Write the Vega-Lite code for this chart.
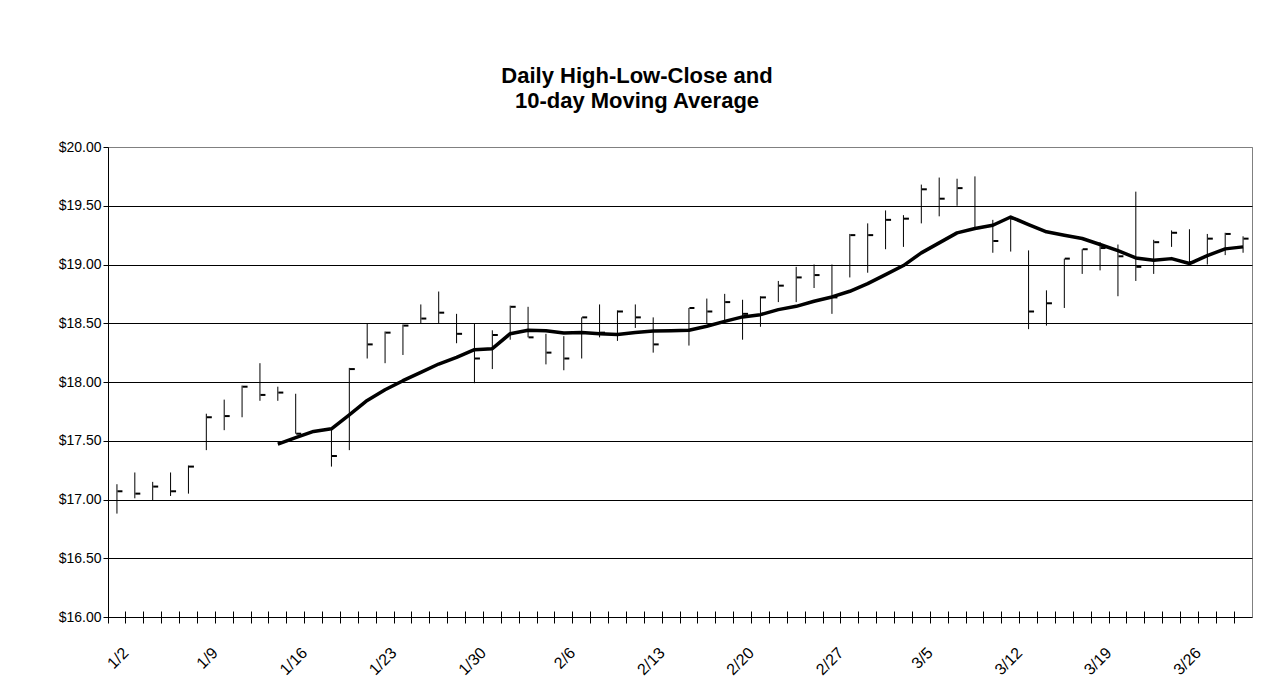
{
  "$schema": "https://vega.github.io/schema/vega-lite/v6.json",
  "width": 1144,
  "height": 470,
  "autosize": {"type": "none"},
  "padding": {"left": 108, "top": 147, "right": 22, "bottom": 83},
  "background": "white",
  "title": {
    "text": ["Daily High-Low-Close and", "10-day Moving Average"],
    "font": "Liberation Sans",
    "fontSize": 22,
    "fontWeight": "bold",
    "color": "black",
    "anchor": "middle",
    "dx": -43,
    "offset": 27,
    "lineHeight": 25
  },
  "config": {
    "view": {"stroke": "#808080", "strokeWidth": 1},
    "font": "Liberation Sans"
  },
  "datasets": {
    "bars": [
      {"date": "1/2", "high": 17.13, "low": 16.88, "close": 17.07},
      {"date": "1/3", "high": 17.23, "low": 17.01, "close": 17.05},
      {"date": "1/4", "high": 17.15, "low": 16.99, "close": 17.11},
      {"date": "1/7", "high": 17.23, "low": 17.03, "close": 17.07},
      {"date": "1/8", "high": 17.29, "low": 17.05, "close": 17.28},
      {"date": "1/9", "high": 17.73, "low": 17.42, "close": 17.70},
      {"date": "1/10", "high": 17.85, "low": 17.59, "close": 17.71},
      {"date": "1/11", "high": 17.97, "low": 17.70, "close": 17.96},
      {"date": "1/14", "high": 18.16, "low": 17.84, "close": 17.89},
      {"date": "1/15", "high": 17.96, "low": 17.84, "close": 17.91},
      {"date": "1/16", "high": 17.90, "low": 17.56, "close": 17.56},
      {"date": "1/18", "high": 17.60, "low": 17.28, "close": 17.37},
      {"date": "1/21", "high": 18.12, "low": 17.42, "close": 18.11},
      {"date": "1/22", "high": 18.50, "low": 18.20, "close": 18.32},
      {"date": "1/23", "high": 18.43, "low": 18.16, "close": 18.42},
      {"date": "1/24", "high": 18.49, "low": 18.23, "close": 18.48},
      {"date": "1/25", "high": 18.66, "low": 18.50, "close": 18.54},
      {"date": "1/28", "high": 18.77, "low": 18.50, "close": 18.59},
      {"date": "1/29", "high": 18.58, "low": 18.33, "close": 18.41},
      {"date": "1/30", "high": 18.50, "low": 17.99, "close": 18.20},
      {"date": "1/31", "high": 18.44, "low": 18.11, "close": 18.40},
      {"date": "2/1", "high": 18.65, "low": 18.36, "close": 18.64},
      {"date": "2/4", "high": 18.64, "low": 18.38, "close": 18.38},
      {"date": "2/5", "high": 18.41, "low": 18.15, "close": 18.25},
      {"date": "2/6", "high": 18.39, "low": 18.10, "close": 18.20},
      {"date": "2/7", "high": 18.55, "low": 18.20, "close": 18.55},
      {"date": "2/8", "high": 18.66, "low": 18.38, "close": 18.42},
      {"date": "2/11", "high": 18.61, "low": 18.35, "close": 18.60},
      {"date": "2/12", "high": 18.66, "low": 18.46, "close": 18.55},
      {"date": "2/13", "high": 18.55, "low": 18.25, "close": 18.32},
      {"date": "2/15", "high": 18.63, "low": 18.31, "close": 18.63},
      {"date": "2/18", "high": 18.71, "low": 18.50, "close": 18.60},
      {"date": "2/19", "high": 18.75, "low": 18.52, "close": 18.68},
      {"date": "2/20", "high": 18.70, "low": 18.36, "close": 18.58},
      {"date": "2/21", "high": 18.73, "low": 18.47, "close": 18.72},
      {"date": "2/22", "high": 18.86, "low": 18.68, "close": 18.82},
      {"date": "2/25", "high": 18.98, "low": 18.68, "close": 18.89},
      {"date": "2/26", "high": 19.00, "low": 18.80, "close": 18.91},
      {"date": "2/27", "high": 19.00, "low": 18.58, "close": 18.72},
      {"date": "2/28", "high": 19.26, "low": 18.89, "close": 19.25},
      {"date": "2/29", "high": 19.35, "low": 18.93, "close": 19.25},
      {"date": "3/3", "high": 19.46, "low": 19.13, "close": 19.38},
      {"date": "3/4", "high": 19.42, "low": 19.15, "close": 19.39},
      {"date": "3/5", "high": 19.68, "low": 19.35, "close": 19.64},
      {"date": "3/6", "high": 19.74, "low": 19.41, "close": 19.56},
      {"date": "3/7", "high": 19.73, "low": 19.50, "close": 19.65},
      {"date": "3/10", "high": 19.75, "low": 19.31, "close": 19.31},
      {"date": "3/11", "high": 19.38, "low": 19.10, "close": 19.20},
      {"date": "3/12", "high": 19.40, "low": 19.11, "close": 19.39},
      {"date": "3/13", "high": 19.12, "low": 18.45, "close": 18.60},
      {"date": "3/14", "high": 18.78, "low": 18.48, "close": 18.67},
      {"date": "3/17", "high": 19.05, "low": 18.63, "close": 19.05},
      {"date": "3/18", "high": 19.13, "low": 18.92, "close": 19.13},
      {"date": "3/19", "high": 19.19, "low": 18.95, "close": 19.14},
      {"date": "3/20", "high": 19.17, "low": 18.73, "close": 19.07},
      {"date": "3/21", "high": 19.62, "low": 18.86, "close": 18.98},
      {"date": "3/24", "high": 19.21, "low": 18.92, "close": 19.19},
      {"date": "3/25", "high": 19.29, "low": 19.15, "close": 19.27},
      {"date": "3/26", "high": 19.30, "low": 19.00, "close": 19.02},
      {"date": "3/27", "high": 19.26, "low": 19.00, "close": 19.22},
      {"date": "3/28", "high": 19.27, "low": 19.08, "close": 19.26},
      {"date": "3/31", "high": 19.24, "low": 19.10, "close": 19.22}
    ],
    "ma": [
      {"date": "1/15", "ma": 17.472},
      {"date": "1/16", "ma": 17.526},
      {"date": "1/17", "ma": 17.579},
      {"date": "1/18", "ma": 17.602},
      {"date": "1/21", "ma": 17.721},
      {"date": "1/22", "ma": 17.843},
      {"date": "1/23", "ma": 17.934},
      {"date": "1/24", "ma": 18.011},
      {"date": "1/25", "ma": 18.082},
      {"date": "1/28", "ma": 18.153},
      {"date": "1/29", "ma": 18.210},
      {"date": "1/30", "ma": 18.275},
      {"date": "1/31", "ma": 18.284},
      {"date": "2/1", "ma": 18.411},
      {"date": "2/4", "ma": 18.440},
      {"date": "2/5", "ma": 18.437},
      {"date": "2/6", "ma": 18.417},
      {"date": "2/7", "ma": 18.422},
      {"date": "2/8", "ma": 18.411},
      {"date": "2/11", "ma": 18.405},
      {"date": "2/12", "ma": 18.422},
      {"date": "2/13", "ma": 18.434},
      {"date": "2/14", "ma": 18.437},
      {"date": "2/15", "ma": 18.440},
      {"date": "2/18", "ma": 18.474},
      {"date": "2/19", "ma": 18.516},
      {"date": "2/20", "ma": 18.554},
      {"date": "2/21", "ma": 18.573},
      {"date": "2/22", "ma": 18.616},
      {"date": "2/25", "ma": 18.644},
      {"date": "2/26", "ma": 18.687},
      {"date": "2/27", "ma": 18.724},
      {"date": "2/28", "ma": 18.772},
      {"date": "2/29", "ma": 18.837},
      {"date": "3/3", "ma": 18.914},
      {"date": "3/4", "ma": 18.991},
      {"date": "3/5", "ma": 19.099},
      {"date": "3/6", "ma": 19.184},
      {"date": "3/7", "ma": 19.269},
      {"date": "3/10", "ma": 19.306},
      {"date": "3/11", "ma": 19.334},
      {"date": "3/12", "ma": 19.404},
      {"date": "3/13", "ma": 19.340},
      {"date": "3/14", "ma": 19.278},
      {"date": "3/17", "ma": 19.249},
      {"date": "3/18", "ma": 19.221},
      {"date": "3/19", "ma": 19.170},
      {"date": "3/20", "ma": 19.118},
      {"date": "3/21", "ma": 19.056},
      {"date": "3/24", "ma": 19.036},
      {"date": "3/25", "ma": 19.050},
      {"date": "3/26", "ma": 19.008},
      {"date": "3/27", "ma": 19.076},
      {"date": "3/28", "ma": 19.133},
      {"date": "3/31", "ma": 19.150}
    ]
  },
  "encoding": {
    "x": {
      "field": "date",
      "type": "ordinal",
      "scale": {
        "domain": ["1/2","1/3","1/4","1/7","1/8","1/9","1/10","1/11","1/14","1/15","1/16","1/17","1/18","1/21","1/22","1/23","1/24","1/25","1/28","1/29","1/30","1/31","2/1","2/4","2/5","2/6","2/7","2/8","2/11","2/12","2/13","2/14","2/15","2/18","2/19","2/20","2/21","2/22","2/25","2/26","2/27","2/28","2/29","3/3","3/4","3/5","3/6","3/7","3/10","3/11","3/12","3/13","3/14","3/17","3/18","3/19","3/20","3/21","3/24","3/25","3/26","3/27","3/28","3/31"],
        "paddingInner": 0,
        "paddingOuter": 0
      },
      "axis": {
        "title": null,
        "grid": false,
        "domain": false,
        "bandPosition": 0,
        "offset": -6,
        "ticks": true,
        "tickSize": 12,
        "tickColor": "black",
        "tickWidth": 1,
        "labelAngle": -45,
        "labelAlign": "right",
        "labelBaseline": "middle",
        "labelOffset": 9,
        "labelPadding": 27,
        "labelFont": "Liberation Sans",
        "labelFontSize": 16,
        "labelColor": "black",
        "labelOverlap": false,
        "labelBound": false,
        "labelExpr": "indexof(['1/2','1/9','1/16','1/23','1/30','2/6','2/13','2/20','2/27','3/5','3/12','3/19','3/26'], datum.value) >= 0 ? datum.value : ''"
      }
    }
  },
  "layer": [
    {
      "data": {"name": "bars"},
      "mark": {"type": "rule", "color": "black", "strokeWidth": 1},
      "encoding": {
        "y": {
          "field": "low",
          "type": "quantitative",
          "scale": {"domain": [16, 20], "nice": false, "zero": false},
          "axis": {
            "title": null,
            "values": [16, 16.5, 17, 17.5, 18, 18.5, 19, 19.5, 20],
            "format": "$.2f",
            "grid": true,
            "gridColor": {"condition": {"test": "datum.value >= 20", "value": "#808080"}, "value": "black"},
            "gridWidth": 1,
            "domainColor": "black",
            "domainWidth": 1,
            "tickColor": "black",
            "tickSize": 5,
            "labelFont": "Liberation Sans",
            "labelFontSize": 14,
            "labelColor": "black",
            "labelPadding": 2
          }
        },
        "y2": {"field": "high"}
      }
    },
    {
      "data": {"name": "bars"},
      "mark": {"type": "tick", "orient": "horizontal", "size": 5, "thickness": 2, "xOffset": 3, "color": "black", "opacity": 1},
      "encoding": {
        "y": {"field": "close", "type": "quantitative", "scale": {"domain": [16, 20], "nice": false, "zero": false}, "title": null}
      }
    },
    {
      "data": {"name": "ma"},
      "mark": {"type": "line", "color": "black", "strokeWidth": 3.5, "strokeJoin": "round"},
      "encoding": {
        "y": {"field": "ma", "type": "quantitative", "scale": {"domain": [16, 20], "nice": false, "zero": false}, "title": null}
      }
    }
  ]
}
